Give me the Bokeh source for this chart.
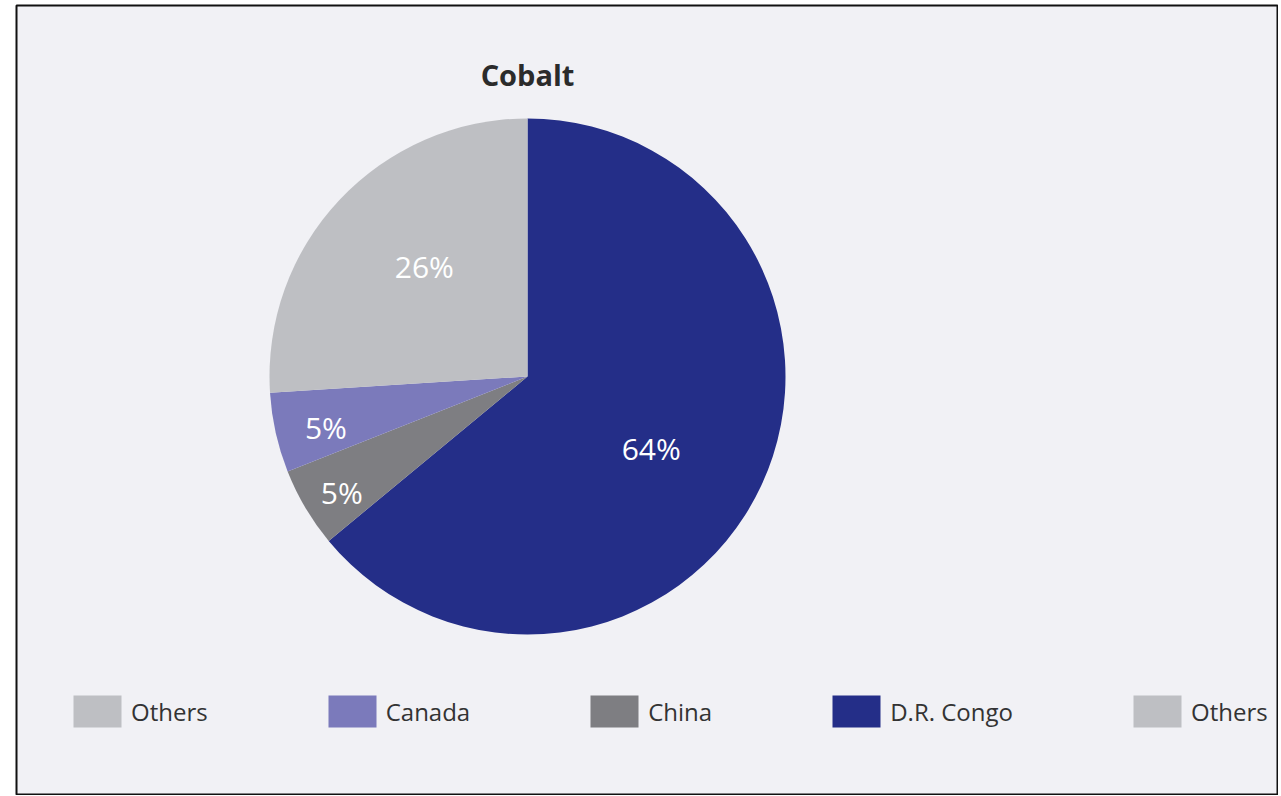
import numpy as np
from bokeh.plotting import figure
from bokeh.models import Range1d, ColumnDataSource, Legend, LegendItem
from bokeh.core.properties import value
from bokeh.embed import file_html
from bokeh.resources import INLINE

# ---- data ----
title = "Cobalt"
countries = ["D.R. Congo", "China", "Canada", "Others"]
shares = [64, 5, 5, 26]
labels = ["64%", "5%", "5%", "26%"]
colors = ["#242e88", "#7e7e82", "#7b7abb", "#bebfc3"]
legend_order = ["Others", "Canada", "China", "D.R. Congo", "Others"]

# ---- styling ----
FONT = "Open Sans"
cx, cy, R = 527, -376, 258
label_r = [143, 219, 208, 151]
label_da = [-4.9, 1.4, 1.6, -3.7]  # degrees

vals = np.array(shares, dtype=float)
frac = vals / vals.sum()
cum = np.concatenate([[0], np.cumsum(frac)])
start = np.pi / 2 - cum[:-1] * 2 * np.pi
end = np.pi / 2 - cum[1:] * 2 * np.pi
mid = (start + end) / 2 + np.radians(label_da)
lx = cx + np.array(label_r) * np.cos(mid)
ly = cy + np.array(label_r) * np.sin(mid)

src = ColumnDataSource(dict(country=countries, start=start, end=end, color=colors,
                            lx=lx, ly=ly, label=labels))

p = figure(width=1278, height=795, output_backend="svg", toolbar_location=None,
           x_range=Range1d(16, 1278), y_range=Range1d(-795, -5),
           min_border_left=16, min_border_right=0, min_border_top=5, min_border_bottom=0)
p.axis.visible = False
p.grid.visible = False
p.background_fill_color = "#f1f1f5"
p.border_fill_color = "white"
p.outline_line_color = "#111111"
p.outline_line_width = 2

w = p.wedge(x=cx, y=cy, radius=R, start_angle="start", end_angle="end",
            direction="clock", fill_color="color", line_color=None, source=src)

p.text(x="lx", y="ly", text="label", source=src, text_color="white",
       text_font=value(FONT), text_font_size="30px", text_align="center",
       text_baseline="middle")

p.text(x=[cx], y=[-74], text=[title], text_color="#2b2b2b", text_font=value(FONT),
       text_font_size="29px", text_font_style="bold", text_align="center",
       text_baseline="middle")

items = [LegendItem(label=name, renderers=[w], index=countries.index(name))
         for name in legend_order]
legend = Legend(items=items, orientation="horizontal", location=(51, 64),
                glyph_width=60, glyph_height=40, label_height=40, label_standoff=4,
                spacing=114, padding=0, margin=0,
                label_text_font=FONT, label_text_font_size="24px",
                label_text_color="#333333", label_text_baseline="middle",
                border_line_alpha=0, background_fill_alpha=0)
p.add_layout(legend, "center")

open("out.html", "w").write(file_html(p, INLINE))
